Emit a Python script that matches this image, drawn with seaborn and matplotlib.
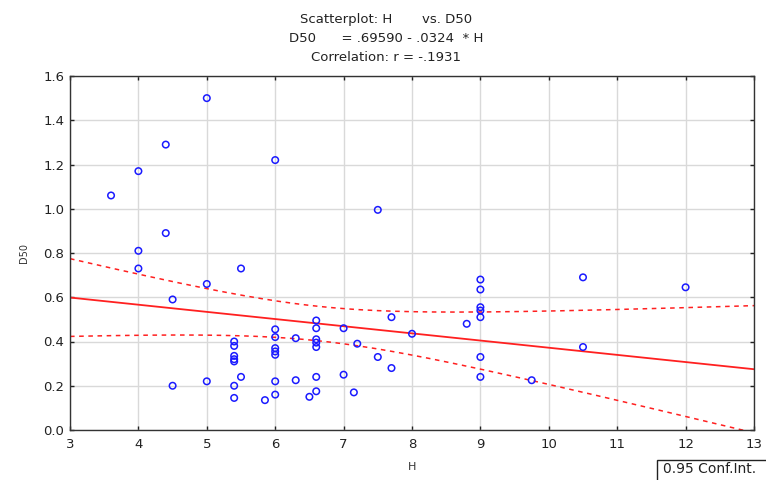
import numpy as np
import pandas as pd
import matplotlib
matplotlib.use("Agg")
import matplotlib.pyplot as plt
from matplotlib.patches import Rectangle
import seaborn as sns

# Observations: H (x) and D50 (y)
h_values = [3.6, 4.0, 4.0, 4.0, 4.4, 4.4, 4.5, 4.5, 5.0, 5.0, 5.0,
            5.4, 5.4, 5.4, 5.4, 5.4, 5.4, 5.4, 5.5, 5.5, 5.85,
            6.0, 6.0, 6.0, 6.0, 6.0, 6.0, 6.0, 6.0, 6.3, 6.3, 6.5,
            6.6, 6.6, 6.6, 6.6, 6.6, 6.6, 6.6, 7.0, 7.0, 7.15, 7.2,
            7.5, 7.5, 7.7, 7.7, 8.0, 8.8, 9.0, 9.0, 9.0, 9.0, 9.0,
            9.0, 9.0, 9.75, 10.5, 10.5, 12.0]
d50_values = [1.06, 1.17, 0.81, 0.73, 1.29, 0.89, 0.59, 0.20, 1.50, 0.66, 0.22,
              0.40, 0.38, 0.335, 0.32, 0.31, 0.20, 0.145, 0.73, 0.24, 0.135,
              1.22, 0.455, 0.42, 0.37, 0.355, 0.34, 0.22, 0.16, 0.415, 0.225, 0.15,
              0.495, 0.46, 0.41, 0.395, 0.375, 0.24, 0.175, 0.46, 0.25, 0.17, 0.39,
              0.995, 0.33, 0.51, 0.28, 0.435, 0.48, 0.68, 0.635, 0.555, 0.54, 0.51,
              0.33, 0.24, 0.225, 0.69, 0.375, 0.645]

# Fitted regression: D50 = .69590 - .0324 * H
intercept = 0.69590
slope = -0.0324
r_value = -0.1931

x_ticks = [3, 4, 5, 6, 7, 8, 9, 10, 11, 12, 13]
y_ticks = [0.0, 0.2, 0.4, 0.6, 0.8, 1.0, 1.2, 1.4, 1.6]

df = pd.DataFrame({"H": h_values, "D50": d50_values})

# 95% confidence band for the mean around the fitted line
x = np.asarray(h_values)
y = np.asarray(d50_values)
n = len(x)
resid = y - (intercept + slope * x)
s = np.sqrt(np.sum(resid ** 2) / (n - 2))
xbar = x.mean()
sxx = np.sum((x - xbar) ** 2)
t_crit = 2.0017
grid = np.linspace(3, 13, 201)
fit = intercept + slope * grid
half = t_crit * s * np.sqrt(1.0 / n + (grid - xbar) ** 2 / sxx)
band = pd.DataFrame({"H": grid, "fit": fit, "lo": fit - half, "hi": fit + half})

sns.set_theme(style="white")
plt.rcParams["font.family"] = ["DejaVu Sans"]

fig = plt.figure(figsize=(7.66, 4.8), dpi=100)
ax = fig.add_axes([70 / 766, 1 - 430 / 480, 684 / 766, 354 / 480])

ax.grid(True, color="#d9d9d9", linewidth=1.0)
ax.set_axisbelow(True)

red = "#ff2020"
sns.lineplot(data=band, x="H", y="fit", ax=ax, color=red, linewidth=1.3)
sns.lineplot(data=band, x="H", y="hi", ax=ax, color=red, linewidth=1.1,
             linestyle=(0, (3, 3)))
sns.lineplot(data=band, x="H", y="lo", ax=ax, color=red, linewidth=1.1,
             linestyle=(0, (3, 3)))
sns.scatterplot(data=df, x="H", y="D50", ax=ax, marker="o", s=22,
                facecolor="none", edgecolor="#1a1aff", linewidth=1.1, zorder=5)

ax.set_xlim(3, 13)
ax.set_ylim(0, 1.6)
ax.set_xticks(x_ticks)
ax.set_xticklabels([str(t) for t in x_ticks])
ax.set_yticks(y_ticks)
ax.set_yticklabels([f"{t:.1f}" for t in y_ticks])
ax.tick_params(axis="both", which="both", direction="in", length=3, width=1,
               colors="#222222", labelsize=9.5, top=True, right=True,
               bottom=True, left=True, pad=4)
ax.tick_params(axis="x", pad=6)
for sp in ax.spines.values():
    sp.set_color("#333333")
    sp.set_linewidth(1.0)

ax.set_xlabel("H", fontsize=8, color="#333333", labelpad=8)
ax.set_ylabel("D50", fontsize=7, color="#333333", labelpad=10)

title_kw = dict(ha="center", va="center", fontsize=9.5, color="#222222")
fig.text(0.504, 1 - 19.5 / 480, "Scatterplot: H       vs. D50", **title_kw)
fig.text(0.504, 1 - 38.5 / 480, "D50      = .69590 - .0324  * H", **title_kw)
fig.text(0.504, 1 - 57.5 / 480,
         f"Correlation: r = {r_value:.4f}".replace("-0.", "-."), **title_kw)

# Legend box for the confidence band
fig.patches.append(Rectangle((657 / 766, -10 / 480), 120 / 766, 30 / 480,
                             transform=fig.transFigure, facecolor="white",
                             edgecolor="#222222", linewidth=1.0))
fig.text(663 / 766, 1 - 469 / 480, "0.95 Conf.Int.", ha="left", va="center",
         fontsize=10, color="#222222")

fig.savefig("out.png", dpi=100)
